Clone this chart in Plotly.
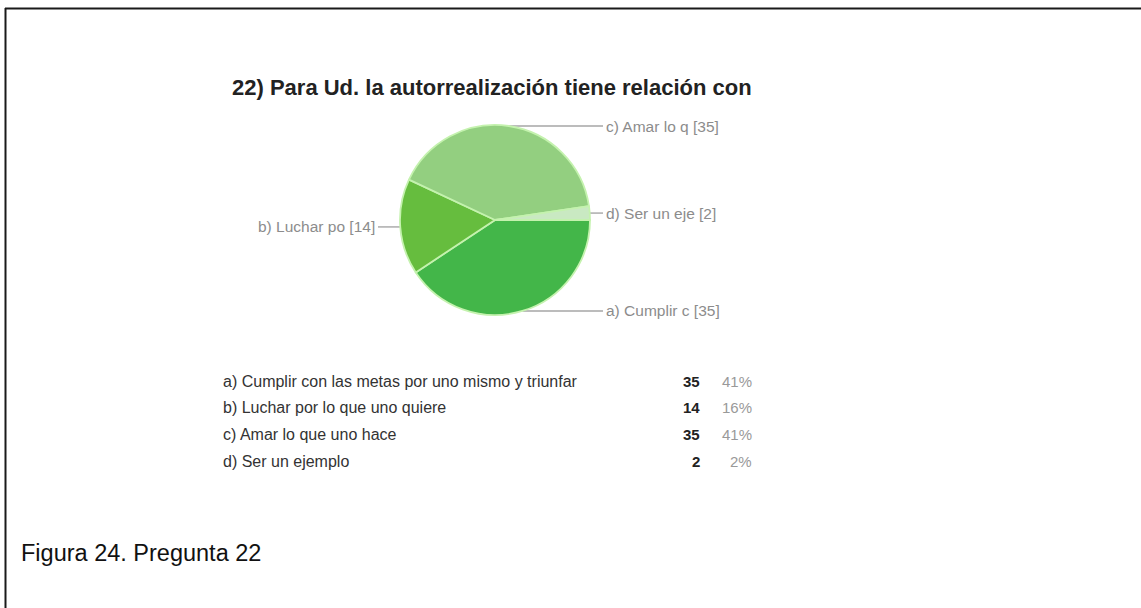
import numpy as np
import plotly.graph_objects as go

# ---- data ----
categories = ["a) Cumplir con las metas por uno mismo y triunfar",
              "b) Luchar por lo que uno quiere",
              "c) Amar lo que uno hace",
              "d) Ser un ejemplo"]
short_labels = ["a) Cumplir c", "b) Luchar po", "c) Amar lo q", "d) Ser un eje"]
counts = [35, 14, 35, 2]
colors = ["#43b649", "#66bd3e", "#93cf80", "#c9e9c2"]
title_text = "22) Para Ud. la autorrealización tiene relación con"
caption_text = "Figura 24. Pregunta 22"

W, H = 1141, 608
FONT = "Arial, Liberation Sans, sans-serif"

# pie geometry (pixels)
cx, cy, r = 495, 220, 95
rotation = 90

fig = go.Figure()

fig.add_trace(go.Pie(
    values=counts, labels=categories, sort=False, direction="clockwise",
    rotation=rotation, marker=dict(colors=colors, line=dict(color="#c4f2ae", width=1.8)),
    textinfo="none", hoverinfo="label+value+percent", showlegend=False,
    domain=dict(x=[(cx - r) / W, (cx + r) / W], y=[1 - (cy + r) / H, 1 - (cy - r) / H]),
))

# leader lines and outside labels, computed from the slice angles
total = sum(counts)
cum = 0.0
annotations = []
right_x = cx + r + 13
left_x = cx - r - 22
for lab, v in zip(short_labels, counts):
    mid = rotation + (cum + v / 2) / total * 360
    cum += v
    th = np.deg2rad(mid)
    ex = cx + r * np.sin(th)
    ey = cy - r * np.cos(th)
    if np.sin(th) >= 0:
        tx, anchor = right_x, "left"
    else:
        tx, anchor = left_x, "right"
    fig.add_trace(go.Scatter(x=[ex, tx], y=[ey, ey], mode="lines",
                             line=dict(color="#a6a6a6", width=1.4),
                             hoverinfo="skip", showlegend=False))
    annotations.append(dict(x=tx + (1 if anchor == "left" else -1), y=ey,
                            text=f"{lab} [{v}]", xanchor=anchor, yanchor="middle",
                            showarrow=False, xref="x", yref="y",
                            font=dict(family=FONT, size=15.5, color="#8c8c8c")))

# title
annotations.append(dict(x=230, y=87, text=f"<b>{title_text}</b>", xanchor="left",
                        yanchor="middle", showarrow=False, xref="x", yref="y",
                        font=dict(family=FONT, size=22, color="#222222")))

# table
row_y0, row_dy = 381, 26.7
for i, (cat, v) in enumerate(zip(categories, counts)):
    y = row_y0 + i * row_dy
    pct = round(v / total * 100)
    annotations.append(dict(x=221, y=y, text=cat, xanchor="left", yanchor="middle",
                            showarrow=False, xref="x", yref="y",
                            font=dict(family=FONT, size=16, color="#333333")))
    annotations.append(dict(x=702, y=y, text=f"<b>{v}</b>", xanchor="right", yanchor="middle",
                            showarrow=False, xref="x", yref="y",
                            font=dict(family=FONT, size=15, color="#222222")))
    annotations.append(dict(x=754, y=y, text=f"{pct}%", xanchor="right", yanchor="middle",
                            showarrow=False, xref="x", yref="y",
                            font=dict(family=FONT, size=15, color="#999999")))

# caption
annotations.append(dict(x=19, y=553, text=caption_text, xanchor="left", yanchor="middle",
                        showarrow=False, xref="x", yref="y",
                        font=dict(family=FONT, size=23.5, color="#111111")))

# frame lines (top and left)
shapes = [
    dict(type="line", xref="x", yref="y", x0=5, y0=8.5, x1=W, y1=8.5,
         line=dict(color="#1a1a1a", width=2)),
    dict(type="line", xref="x", yref="y", x0=5.5, y0=8, x1=5.5, y1=H,
         line=dict(color="#1a1a1a", width=2)),
]

fig.update_layout(
    width=W, height=H, margin=dict(l=0, r=0, t=0, b=0),
    paper_bgcolor="white", plot_bgcolor="rgba(0,0,0,0)",
    xaxis=dict(range=[0, W], visible=False, fixedrange=True, domain=[0, 1]),
    yaxis=dict(range=[H, 0], visible=False, fixedrange=True, domain=[0, 1]),
    annotations=annotations, shapes=shapes, showlegend=False,
)

fig.write_html("out.html", config={"displayModeBar": False},
               post_script="document.body.style.margin='0';document.body.style.overflow='hidden';")
